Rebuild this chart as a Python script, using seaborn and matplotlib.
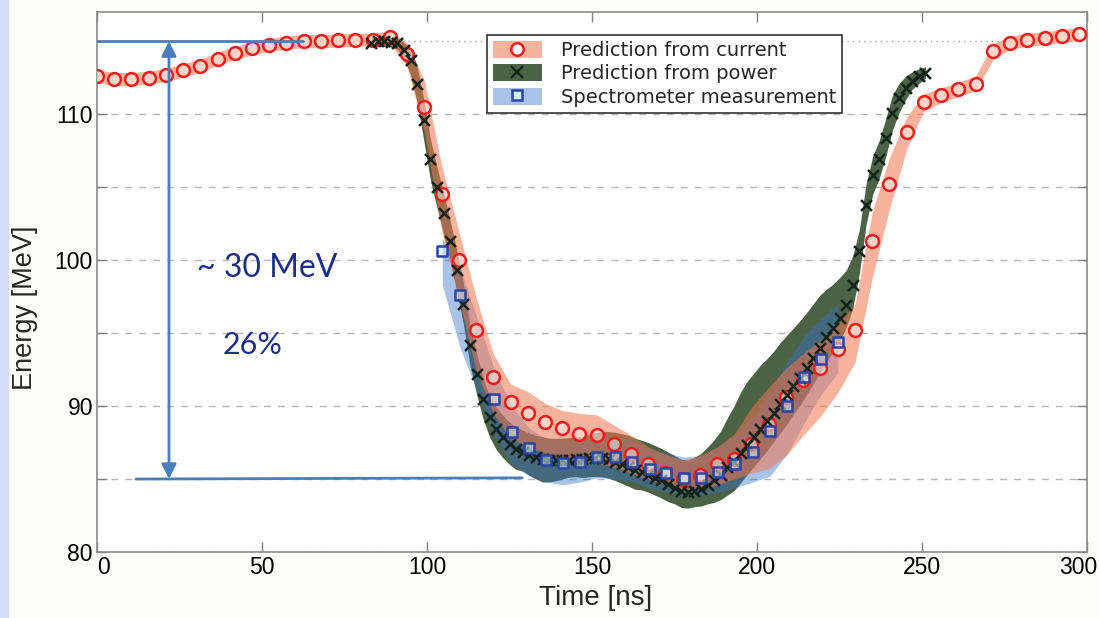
import matplotlib
matplotlib.use("Agg")
import matplotlib.pyplot as plt
import matplotlib.transforms as mtransforms
from matplotlib.patches import Patch, Rectangle
from matplotlib.lines import Line2D
import numpy as np
import pandas as pd
import seaborn as sns

# prediction from current (red circles + salmon band)
x_cur = [0.0, 5.2, 10.4, 15.7, 20.9, 26.1, 31.3, 36.5, 41.8, 47.0, 52.2, 57.4, 62.6, 67.9, 73.1,
         78.3, 83.5, 88.7, 93.9, 99.2, 104.4, 109.6, 114.8, 120.0, 125.3, 130.5, 135.7, 140.9,
         146.1, 151.4, 156.6, 161.8, 167.0, 172.2, 177.5, 182.7, 187.9, 193.1, 198.3, 203.6,
         208.8, 214.0, 219.2, 224.4, 229.7, 234.9, 240.1, 245.3, 250.5, 255.8, 261.0, 266.2,
         271.4, 276.6, 281.9, 287.1, 292.3, 297.5]
y_cur = [112.6, 112.4, 112.4, 112.5, 112.7, 113.0, 113.3, 113.8, 114.2, 114.5, 114.75, 114.9,
         115.0, 115.0, 115.05, 115.1, 115.1, 115.3, 114.1, 110.5, 104.5, 100.0, 95.2, 92.0, 90.3,
         89.5, 88.9, 88.5, 88.1, 88.0, 87.4, 86.7, 86.0, 85.4, 85.0, 85.3, 86.0, 86.4, 87.4, 88.8,
         90.6, 91.8, 92.6, 93.9, 95.2, 101.3, 105.2, 108.8, 110.8, 111.3, 111.7, 112.1, 114.3,
         114.9, 115.1, 115.2, 115.35, 115.5]
cur_lo = [112.15, 111.95, 111.95, 112.05, 112.25, 112.55, 112.85, 113.35, 113.75, 114.05, 114.3,
          114.45, 114.55, 114.55, 114.6, 114.65, 114.65, 114.8, 113.3, 108.8, 102.0, 97.5, 92.5,
          89.5, 87.8, 87.2, 86.8, 86.5, 86.3, 86.1, 85.8, 85.4, 85.0, 84.6, 84.2, 84.3, 84.6, 85.0,
          85.4, 85.7, 86.6, 88.0, 89.3, 90.9, 93.0, 98.8, 103.5, 107.6, 110.2, 110.8, 111.2, 111.6,
          113.7, 114.45, 114.65, 114.75, 114.9, 115.05]
cur_hi = [113.05, 112.85, 112.85, 112.95, 113.15, 113.45, 113.75, 114.25, 114.65, 114.95, 115.2,
          115.35, 115.45, 115.45, 115.5, 115.55, 115.55, 115.7, 114.9, 112.3, 106.5, 102.0, 97.5,
          93.6, 91.5, 91.0, 90.2, 89.7, 89.5, 89.4, 88.7, 88.0, 87.2, 86.7, 86.3, 86.6, 87.2, 88.1,
          89.9, 91.3, 92.6, 93.6, 94.5, 95.6, 97.0, 103.3, 107.0, 109.8, 111.4, 111.8, 112.2, 112.6,
          114.8, 115.35, 115.55, 115.65, 115.8, 115.95]

# prediction from power (black crosses + dark green band)
x_pow = [83, 85, 87, 89, 91, 93, 95, 97, 99, 101, 103, 105, 107, 109, 111, 113, 115, 117, 119,
         121, 123, 125, 127, 129, 131, 133, 135, 137, 139, 141, 143, 145, 147, 149, 151, 153, 155,
         157, 159, 161, 163, 165, 167, 169, 171, 173, 175, 177, 179, 181, 183, 185, 187, 189, 191,
         193, 195, 197, 199, 201, 203, 205, 207, 209, 211, 213, 215, 217, 219, 221, 223, 225, 227,
         229, 231, 233, 235, 237, 239, 241, 243, 245, 247, 249, 251]
y_pow = [114.9, 115.0, 115.0, 114.95, 114.85, 114.4, 113.7, 112.1, 109.6, 106.9, 105.0, 103.2,
         101.3, 99.3, 97.0, 94.2, 92.2, 90.5, 89.25, 88.4, 87.85, 87.4, 87.05, 86.85, 86.65, 86.5,
         86.4, 86.3, 86.28, 86.3, 86.33, 86.37, 86.4, 86.45, 86.47, 86.45, 86.35, 86.2, 86.0, 85.8,
         85.6, 85.45, 85.3, 85.1, 84.9, 84.65, 84.4, 84.15, 84.1, 84.2, 84.35, 84.6, 84.9, 85.3,
         85.8, 86.2, 86.75, 87.3, 87.85, 88.4, 88.95, 89.55, 90.15, 90.75, 91.35, 91.95, 92.6,
         93.3, 94.0, 94.7, 95.35, 96.0, 96.9, 98.3, 100.6, 103.8, 105.8, 106.9, 108.4, 110.1,
         111.1, 111.8, 112.3, 112.6, 112.85]
pow_err_lo = [0.35, 0.35, 0.35, 0.35, 0.4, 0.6, 1.0, 1.3, 1.4, 1.4, 1.4, 1.4, 1.4, 1.4, 1.4, 1.4,
              1.4, 1.4, 1.4, 1.4, 1.4, 1.4, 1.4, 1.3, 1.4, 1.5, 1.6, 1.5, 1.4, 1.3, 1.2, 1.2, 1.3,
              1.3, 1.3, 1.3, 1.3, 1.3, 1.3, 1.3, 1.3, 1.2, 1.2, 1.2, 1.2, 1.2, 1.1, 1.1, 1.1, 1.1,
              1.2, 1.3, 1.5, 1.7, 1.9, 2.0, 2.0, 2.0, 2.0, 2.0, 2.0, 2.0, 2.0, 2.0, 1.9, 1.9, 1.8,
              1.8, 1.7, 1.7, 1.6, 1.6, 1.5, 1.6, 1.5, 1.4, 1.3, 1.3, 1.3, 1.2, 1.0, 0.8, 0.6, 0.5, 0.4]
pow_err_hi = [0.35, 0.35, 0.35, 0.35, 0.4, 0.5, 0.8, 1.2, 1.4, 1.4, 1.4, 1.4, 1.4, 1.4, 1.4, 1.4,
              1.4, 1.4, 1.4, 1.5, 1.5, 1.5, 1.5, 1.5, 1.5, 1.5, 1.5, 1.5, 1.5, 1.5, 1.5, 1.5, 1.5,
              1.6, 1.7, 1.8, 1.9, 2.0, 2.1, 2.2, 2.2, 2.2, 2.2, 2.2, 2.2, 2.2, 2.2, 2.2, 2.2, 2.3,
              2.4, 2.6, 2.8, 3.0, 3.4, 3.8, 4.2, 4.4, 4.4, 4.4, 4.3, 4.2, 4.2, 4.1, 4.0, 3.9, 3.8,
              3.7, 3.6, 3.3, 3.0, 2.8, 2.4, 2.0, 1.5, 1.4, 1.3, 1.3, 1.3, 1.2, 1.0, 0.8, 0.6, 0.5, 0.4]

# spectrometer measurement (blue squares + light blue band)
x_spec = [104.6, 110.0, 120.4, 125.7, 130.9, 136.1, 141.2, 146.4, 151.6, 157.0, 162.2, 167.4,
          172.5, 177.8, 183.0, 188.2, 193.4, 198.7, 203.9, 209.1, 214.2, 219.4, 224.5]
y_spec = [100.6, 97.6, 90.5, 88.2, 87.1, 86.3, 86.1, 86.2, 86.5, 86.5, 86.2, 85.7, 85.4, 85.1,
          85.1, 85.5, 86.05, 86.85, 88.3, 90.0, 92.0, 93.2, 94.4]
spec_lo = [98.3, 94.0, 88.0, 86.0, 85.2, 84.8, 84.6, 84.8, 85.1, 85.0, 84.8, 84.4, 84.1, 83.9,
           83.9, 84.1, 84.4, 84.8, 85.2, 86.7, 88.8, 90.8, 92.3]
spec_hi = [101.5, 99.5, 92.5, 90.0, 88.5, 87.7, 87.6, 87.6, 87.8, 87.9, 87.6, 87.0, 86.8, 86.5,
           86.6, 87.2, 88.0, 89.2, 91.0, 93.0, 94.8, 96.0, 97.0]

# the ~30 MeV drop that is annotated
ref_top = 115.0
ref_bottom = 85.0

cur = pd.DataFrame({"t": x_cur, "E": y_cur})
pw = pd.DataFrame({"t": x_pow, "E": y_pow})
spec = pd.DataFrame({"t": x_spec, "E": y_spec})

sns.set_theme(style="white")
plt.rcParams["font.family"] = ["Liberation Sans", "DejaVu Sans"]

salmon = "#f4754f"
green = "#4b6244"
blue = "#3874ca"

fig = plt.figure(figsize=(10.99, 6.18), dpi=100, facecolor="#fcfcfa")
fig.patches.append(Rectangle((0, 0), 8 / 1099, 1, transform=fig.transFigure,
                             color="#d3dcf8", zorder=-1))
ax = fig.add_axes([0.0883, 0.1068, 0.9009, 0.8738])
ax.set_facecolor("white")

ax.fill_between(x_pow, np.array(y_pow) - np.array(pow_err_lo),
                np.array(y_pow) + np.array(pow_err_hi), color=green, lw=0, zorder=2)
ax.fill_between(x_spec, spec_lo, spec_hi, color=blue, alpha=0.43, lw=0, zorder=3)
ax.fill_between(x_cur, cur_lo, cur_hi, color=salmon, alpha=0.55, lw=0, zorder=4)

sns.scatterplot(data=cur, x="t", y="E", marker="o", s=85, facecolor=(1, 1, 1, 0.45),
                edgecolor="#f21c1c", linewidth=1.8, ax=ax, zorder=5)
sns.scatterplot(data=pw, x="t", y="E", marker="x", s=62, color="#14231a",
                linewidth=1.8, ax=ax, zorder=6)
sns.scatterplot(data=spec, x="t", y="E", marker="s", s=48, facecolor=(0.82, 0.93, 0.97, 0.55),
                edgecolor="#2a44a8", linewidth=1.8, ax=ax, zorder=7)

# reference markers for the energy drop
ax.axhline(ref_top, color="#a0a0a0", ls=(0, (1, 3)), lw=1, zorder=1)
ax.plot([0, 62.4], [ref_top, ref_top], color="#4a7ebb", lw=2, zorder=8)
ax.plot([11.8, 128.8], [ref_bottom, ref_bottom + 0.08], color="#4a7ebb", lw=2, zorder=8)
ax.annotate("", xy=(21.8, ref_bottom), xytext=(21.8, ref_top),
            arrowprops=dict(arrowstyle="<|-|>", color="#4a7ebb", lw=2,
                            mutation_scale=22, shrinkA=0, shrinkB=0), zorder=8)
ax.text(30.3, 98.85, "~ 30 MeV", color="#1c2e8c", fontsize=23, family=["Lato", "DejaVu Sans"])
ax.text(38.2, 93.6, "26%", color="#1c2e8c", fontsize=22, family=["Lato", "DejaVu Sans"])

ax.set_xlim(0, 300)
ax.set_ylim(80, 117)
ax.set_xticks([0, 50, 100, 150, 200, 250, 300])
ax.set_yticks([80, 85, 90, 95, 100, 105, 110])
ax.set_yticklabels(["80", "", "90", "", "100", "", "110"])
ax.yaxis.grid(True, linestyle=(0, (5, 5)), color="#b5b5b5", lw=1)
ax.set_axisbelow(True)
ax.tick_params(direction="in", length=7, width=1, color="#808080", labelsize=16.5,
               labelcolor="black", top=True, right=True, left=True, bottom=True, pad=3)
for sp in ax.spines.values():
    sp.set_color("#8a8a8a")
    sp.set_linewidth(1.2)

# first and last x labels sit slightly inside, as in the original
xlabels = ax.get_xticklabels()
xlabels[0].set_transform(xlabels[0].get_transform()
                         + mtransforms.ScaledTranslation(6 / 100, 0, fig.dpi_scale_trans))
xlabels[-1].set_transform(xlabels[-1].get_transform()
                          + mtransforms.ScaledTranslation(-9 / 100, 0, fig.dpi_scale_trans))

ax.set_xlabel("Time [ns]", fontsize=20)
ax.set_ylabel("Energy [MeV]", fontsize=19.5)
ax.xaxis.set_label_coords(0.504, -0.062)
ax.yaxis.set_label_coords(-0.06, 0.452)

handles = [
    (Patch(facecolor=salmon, alpha=0.55, lw=0),
     Line2D([], [], ls="", marker="o", ms=9, mfc="white", mec="#f21c1c", mew=1.8)),
    (Patch(facecolor=green, lw=0),
     Line2D([], [], ls="", marker="x", ms=8, color="#14231a", mew=1.7)),
    (Patch(facecolor=blue, alpha=0.43, lw=0),
     Line2D([], [], ls="", marker="s", ms=7, mfc="#d0eef8", mec="#2a44a8", mew=1.8)),
]
leg = ax.legend(handles, ["Prediction from current", "Prediction from power",
                          "Spectrometer measurement"],
                loc="upper left", bbox_to_anchor=(0.394, 0.957), borderaxespad=0,
                fancybox=False, framealpha=1, edgecolor="#333333", borderpad=0.3,
                handlelength=2.5, handleheight=0.95, handletextpad=1.0, labelspacing=0.22,
                prop={"family": "DejaVu Sans", "size": 14})
leg.get_frame().set_linewidth(1.2)
leg.set_zorder(10)

fig.savefig("out.png", dpi=100, facecolor=fig.get_facecolor())
